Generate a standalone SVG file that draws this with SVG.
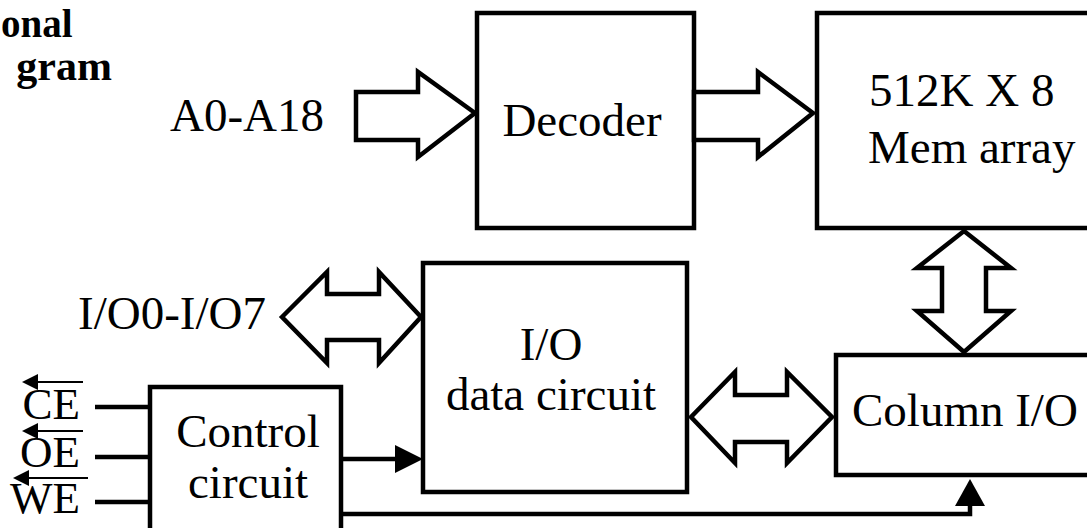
<svg xmlns="http://www.w3.org/2000/svg" width="1087" height="528" viewBox="0 0 1087 528">
<style>
.box{fill:#fff;stroke:#000;stroke-width:4.5}
.bus{fill:#fff;stroke:#000;stroke-width:4.5;stroke-linejoin:miter;stroke-miterlimit:10}
.ln{fill:none;stroke:#000;stroke-width:4.5}
.bar{fill:none;stroke:#000;stroke-width:2}
.head{fill:#000;stroke:none}
text{font-family:"Liberation Serif","Times New Roman",serif;font-size:47px;fill:#000}
.title{font-weight:bold;font-size:42px}
.sig{font-size:45px}
</style>
<rect width="1087" height="528" fill="#fff"/>
<g id="title">
<text class="title" x="1" y="37" style="font-size:39px">onal</text>
<text class="title" x="112" y="80" text-anchor="end">gram</text>
</g>
<g id="decoder">
<rect class="box" x="477" y="13" width="217" height="215"/>
<text x="582" y="136" text-anchor="middle">Decoder</text>
</g>
<g id="mem-array">
<rect class="box" x="817" y="13" width="290" height="215"/>
<text x="869" y="106">512K X 8</text>
<text x="868" y="163">Mem array</text>
</g>
<g id="io-data">
<rect class="box" x="423" y="263" width="264" height="229"/>
<text x="551" y="360" text-anchor="middle">I/O</text>
<text x="551" y="410" text-anchor="middle">data circuit</text>
</g>
<g id="column-io">
<rect class="box" x="836" y="355" width="270" height="120"/>
<text x="852" y="426">Column I/O</text>
</g>
<g id="control">
<rect class="box" x="150" y="387" width="191" height="160"/>
<text x="248" y="447" text-anchor="middle">Control</text>
<text x="248" y="498" text-anchor="middle">circuit</text>
</g>
<g id="labels">
<text x="170" y="131">A0-A18</text>
<text x="78" y="329">I/O0-I/O7</text>
<text class="sig" x="80" y="419" text-anchor="end">CE</text>
<text class="sig" x="80" y="467" text-anchor="end">OE</text>
<text class="sig" x="80" y="513" text-anchor="end">WE</text>
<line class="bar" x1="30" y1="382" x2="83" y2="382"/>
<polygon class="head" points="22,382 38,374 38,390"/>
<line class="bar" x1="30" y1="431" x2="83" y2="431"/>
<polygon class="head" points="22,431 38,423 38,439"/>
<line class="bar" x1="21" y1="478" x2="88" y2="478"/>
<polygon class="head" points="13,478 29,470 29,486"/>
</g>
<g id="connectors">
<polygon class="bus" points="356,92 418,92 418,72 475,113 418,157 418,140 356,140"/>
<polygon class="bus" points="694,92 758,92 758,72 813,113 758,157 758,140 694,140"/>
<polygon class="bus" points="282,317 327,272 327,294 379,294 379,272 421,317 379,363 379,340 327,340 327,363"/>
<polygon class="bus" points="691,417 735,372 735,395 787,395 787,372 832,417 787,463 787,442 735,442 735,463"/>
<polygon class="bus" points="964,231 1011,268 986,268 986,311 1011,311 964,352 917,311 942,311 942,268 917,268"/>
<line class="ln" x1="95" y1="407" x2="150" y2="407"/>
<line class="ln" x1="95" y1="457" x2="150" y2="457"/>
<line class="ln" x1="95" y1="502" x2="150" y2="502"/>
<line class="ln" x1="341" y1="459" x2="397" y2="459"/>
<polygon class="head" points="395,445 423,459 395,473"/>
<polyline class="ln" points="341,514 970,514 970,504"/>
<polygon class="head" points="955,506 970,479 985,506"/>
</g>
</svg>
